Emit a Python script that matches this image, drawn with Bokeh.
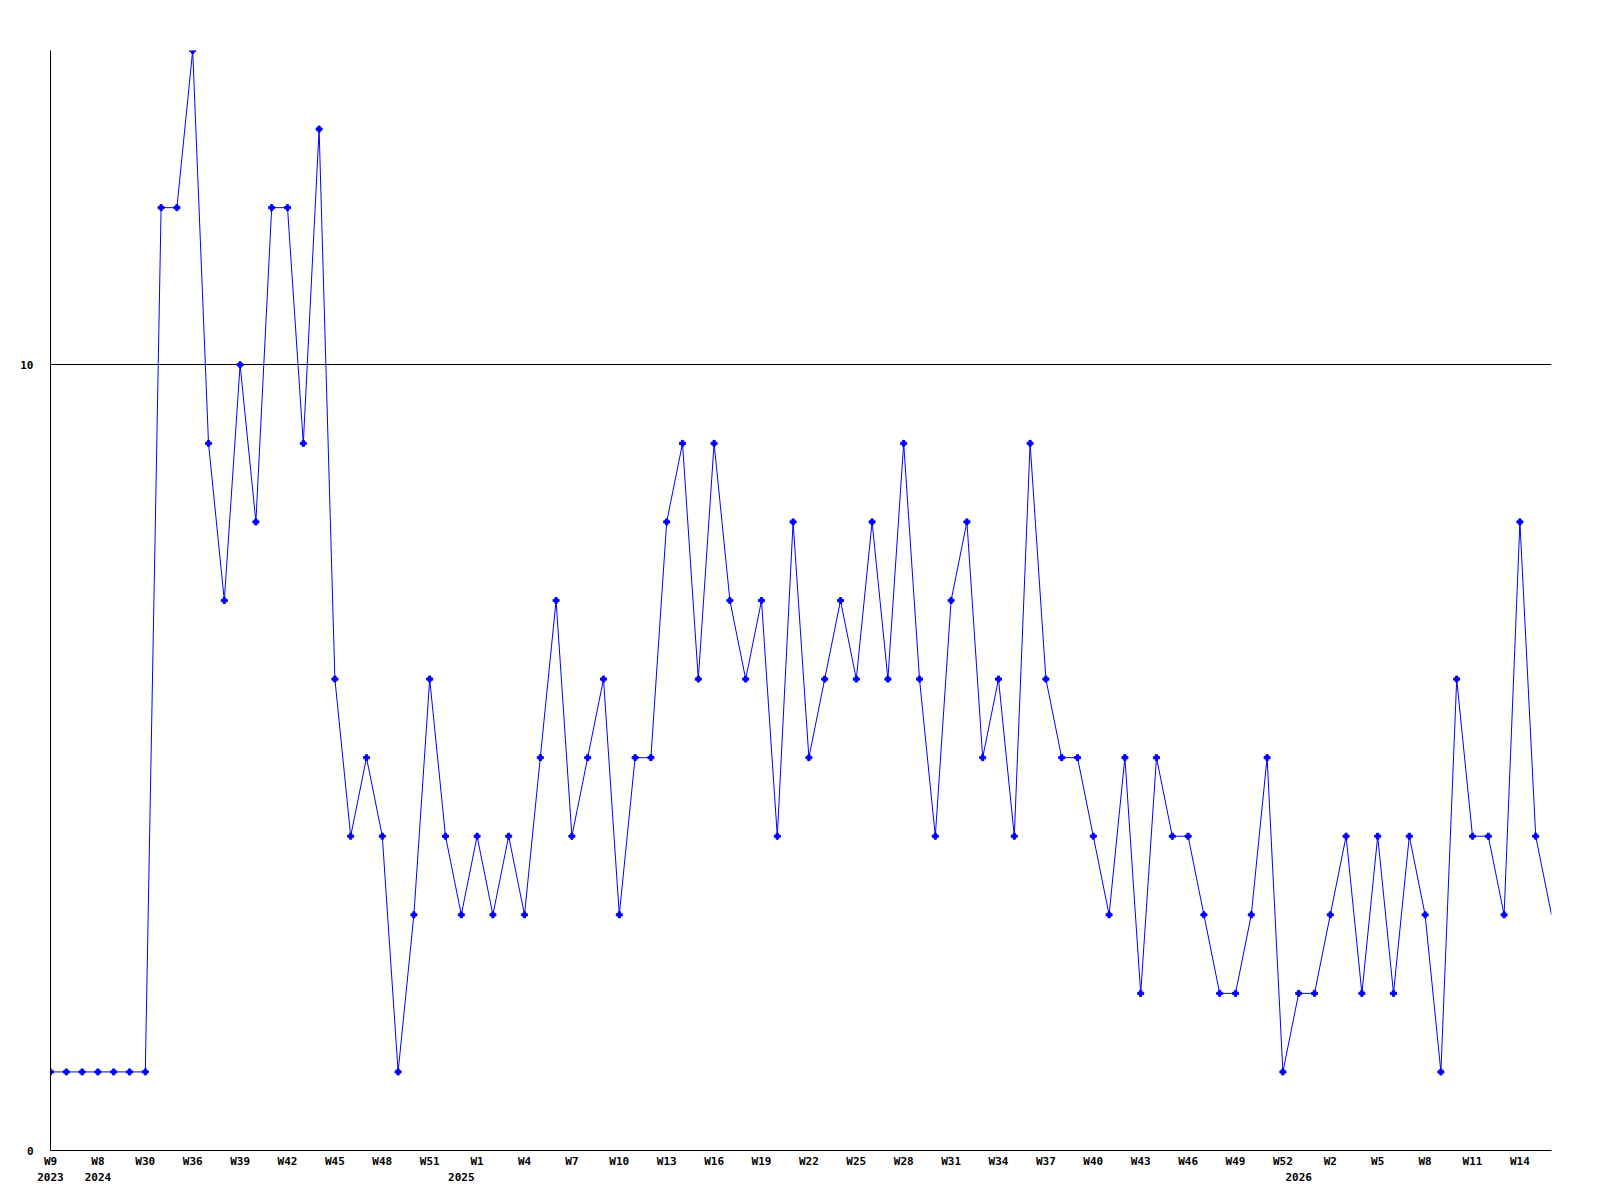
from bokeh.plotting import figure
from bokeh.models import Range1d, FixedTicker, LinearAxis
from bokeh.embed import file_html
from bokeh.resources import INLINE

# weekly counts, one per point on the categorical (index) x axis
values = [1, 1, 1, 1, 1, 1, 1, 12, 12, 14, 9, 7, 10, 8, 12, 12, 9, 13, 6, 4,
          5, 4, 1, 3, 6, 4, 3, 4, 3, 4, 3, 5, 7, 4, 5, 6, 3, 5, 5, 8,
          9, 6, 9, 7, 6, 7, 4, 8, 5, 6, 7, 6, 8, 6, 9, 6, 4, 7, 8, 5,
          6, 4, 9, 6, 5, 5, 4, 3, 5, 2, 5, 4, 4, 3, 2, 2, 3, 5, 1, 2,
          2, 3, 4, 2, 4, 2, 4, 3, 1, 6, 4, 4, 3, 8, 4, 3]
assert len(values) == 96

week_labels = ["W9", "W8", "W30", "W36", "W39", "W42", "W45", "W48", "W51", "W1",
               "W4", "W7", "W10", "W13", "W16", "W19", "W22", "W25", "W28", "W31",
               "W34", "W37", "W40", "W43", "W46", "W49", "W52", "W2", "W5", "W8",
               "W11", "W14"]
week_label_step = 3
year_labels = ["2023", "2024", "2025", "2026"]
year_positions = [0, 3, 26, 79]
y_ticks = [0, 10]
y_max = 14

xs = list(range(len(values)))
week_positions = list(range(0, len(week_labels) * week_label_step, week_label_step))

FONT = "DejaVu Sans Mono"
BLUE = "#0000ff"

p = figure(frame_width=1501, frame_height=1100, output_backend="svg",
           toolbar_location=None, x_range=Range1d(0, len(values) - 1),
           y_range=Range1d(0, y_max), min_border_left=50, min_border_top=50,
           min_border_right=30, min_border_bottom=10)
p.outline_line_color = None
p.background_fill_color = "white"
p.border_fill_color = "white"

p.line(xs, values, line_color=BLUE, line_width=1)
p.scatter(xs[:-1], values[:-1], marker="plus", size=6, color=BLUE)

# grids
p.xgrid.visible = False
p.ygrid.ticker = FixedTicker(ticks=[t for t in y_ticks if t > 0])
p.ygrid.grid_line_color = "black"
p.ygrid.grid_line_width = 1

# y axis
ya = p.yaxis[0]
ya.ticker = FixedTicker(ticks=y_ticks)
ya.major_tick_line_color = None
ya.minor_tick_line_color = None
ya.major_tick_out = 0
ya.major_tick_in = 0
ya.major_label_standoff = 17
ya.axis_line_color = "black"
ya.major_label_text_font = FONT
ya.major_label_text_font_style = "bold"
ya.major_label_text_font_size = "11px"
ya.major_label_text_color = "black"

# x axis: week labels
xa = p.xaxis[0]
xa.ticker = FixedTicker(ticks=week_positions)
xa.major_label_overrides = {pos: lab for pos, lab in zip(week_positions, week_labels)}
xa.major_tick_line_color = None
xa.minor_tick_line_color = None
xa.major_tick_out = 0
xa.major_tick_in = 0
xa.major_label_standoff = 4
xa.axis_line_color = "black"
xa.major_label_text_font = FONT
xa.major_label_text_font_style = "bold"
xa.major_label_text_font_size = "11px"
xa.major_label_text_color = "black"

# second x axis: year labels
yr = LinearAxis(ticker=FixedTicker(ticks=year_positions),
                major_label_overrides={pos: lab for pos, lab in zip(year_positions, year_labels)})
yr.axis_line_color = None
yr.major_tick_line_color = None
yr.minor_tick_line_color = None
yr.major_tick_out = 0
yr.major_tick_in = 0
yr.major_label_standoff = 2
yr.major_label_text_font = FONT
yr.major_label_text_font_style = "bold"
yr.major_label_text_font_size = "11px"
yr.major_label_text_color = "black"
p.add_layout(yr, "below")

open("out.html", "w").write(file_html(p, INLINE))
